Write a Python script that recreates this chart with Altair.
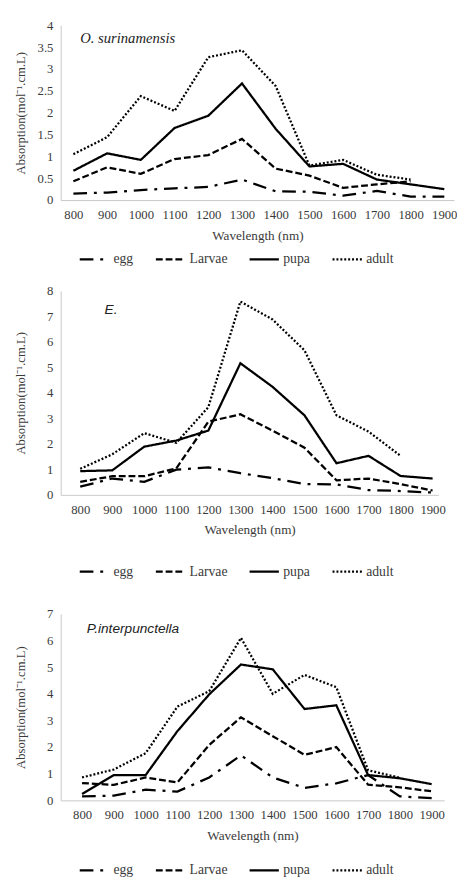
import altair as alt
import pandas as pd

wavelengths = [800, 900, 1000, 1100, 1200, 1300, 1400, 1500, 1600, 1700, 1800, 1900]
stages = ["egg", "Larvae", "pupa", "adult"]

# Panel 1: O. surinamensis
p1_egg = [0.15, 0.17, 0.23, 0.27, 0.30, 0.47, 0.20, 0.19, 0.10, 0.21, 0.08, 0.08]
p1_larvae = [0.43, 0.75, 0.60, 0.94, 1.03, 1.40, 0.72, 0.56, 0.28, 0.36, 0.43, None]
p1_pupa = [0.67, 1.07, 0.92, 1.65, 1.93, 2.67, 1.63, 0.77, 0.83, 0.47, 0.36, 0.25]
p1_adult = [1.05, 1.44, 2.38, 2.04, 3.27, 3.43, 2.61, 0.79, 0.92, 0.58, 0.47, None]

# Panel 2: E.
p2_egg = [0.32, 0.64, 0.51, 0.99, 1.08, 0.85, 0.66, 0.42, 0.41, 0.19, 0.15, 0.09]
p2_larvae = [0.51, 0.73, 0.73, 1.04, 2.87, 3.16, 2.52, 1.85, 0.57, 0.64, 0.42, 0.17]
p2_pupa = [0.93, 0.96, 1.89, 2.13, 2.52, 5.16, 4.24, 3.12, 1.24, 1.53, 0.74, 0.64]
p2_adult = [1.02, 1.59, 2.42, 2.04, 3.44, 7.58, 6.88, 5.67, 3.12, 2.48, 1.53, None]

# Panel 3: P. interpunctella
p3_egg = [0.15, 0.18, 0.40, 0.33, 0.86, 1.69, 0.86, 0.47, 0.64, 0.95, 0.15, 0.08]
p3_larvae = [0.65, 0.58, 0.86, 0.67, 2.08, 3.12, 2.41, 1.71, 2.00, 0.59, 0.49, 0.34]
p3_pupa = [0.24, 0.95, 0.95, 2.60, 3.98, 5.10, 4.92, 3.43, 3.57, 0.95, 0.83, 0.61]
p3_adult = [0.86, 1.16, 1.77, 3.52, 4.10, 6.10, 4.00, 4.71, 4.25, 1.13, 0.85, None]

y_title = "Absorption(mol\u207b\u00b9.cm.L)"
x_title = "Wavelength  (nm)"
dashes = [[14, 7, 3, 7], [7, 3], [1, 0], [2, 2]]

SERIF = "Liberation Serif"
TXT = "#3a3a3a"
AXC = "#c8c8c8"


def long_df(series):
    rows = []
    for stage, vals in zip(stages, series):
        for w, v in zip(wavelengths, vals):
            if v is not None:
                rows.append({"wl": w, "val": v, "stage": stage})
    return pd.DataFrame(rows)


def panel(series, xdom, ymax, ystep, w, h, legx, legy, legpad, label, lab_x, lab_y, lab_font, lab_size):
    df = long_df(series)
    yvals = [round(i * ystep, 2) for i in range(int(round(ymax / ystep)) + 1)]
    xscale = alt.Scale(domain=xdom, nice=False, zero=False)
    yscale = alt.Scale(domain=[0, ymax], nice=False)
    xaxis = alt.Axis(values=wavelengths, format="d", title=x_title, tickSize=0,
                     labelOverlap=False, labelFlush=False,
                     labelPadding=9, titlePadding=7, grid=False, domainColor=AXC,
                     labelFont=SERIF, titleFont=SERIF, labelFontSize=13, titleFontSize=13.5,
                     titleFontWeight="normal", labelColor=TXT, titleColor=TXT)
    yaxis = alt.Axis(values=yvals, format="~g", title=y_title, tickSize=0, labelPadding=8,
                     labelOverlap=False, labelFlush=False,
                     minExtent=30, maxExtent=30, titlePadding=4, grid=False,
                     domainColor=AXC, labelFont=SERIF, titleFont=SERIF,
                     labelFontSize=13, titleFontSize=13, titleFontWeight="normal",
                     labelColor=TXT, titleColor=TXT)
    lines = alt.Chart(df).mark_line(color="black", strokeWidth=2.3).encode(
        x=alt.X("wl:Q", scale=xscale, axis=xaxis, title=x_title),
        y=alt.Y("val:Q", scale=yscale, axis=yaxis, title=y_title),
        strokeDash=alt.StrokeDash("stage:N",
                                  scale=alt.Scale(domain=stages, range=dashes),
                                  sort=stages,
                                  legend=alt.Legend(title=None, orient="none", direction="horizontal",
                                                    legendX=legx, legendY=legy, padding=legpad,
                                                    symbolType="stroke", symbolSize=900,
                                                    symbolStrokeWidth=2.3, symbolStrokeColor="black",
                                                    labelFont=SERIF, labelFontSize=14, labelColor=TXT,
                                                    labelOffset=3, columnPadding=17)),
        detail="stage:N",
    )
    note = alt.Chart(pd.DataFrame({"t": [label]})).mark_text(
        align="left", baseline="middle", font=lab_font, fontSize=lab_size,
        fontStyle="italic", color="#222222").encode(
        x=alt.X(datum=lab_x, scale=xscale, axis=xaxis, title=x_title),
        y=alt.Y(datum=lab_y, scale=yscale, axis=yaxis, title=y_title),
        text="t:N")
    return alt.layer(lines, note).properties(width=w, height=h)


c1 = panel([p1_egg, p1_larvae, p1_pupa, p1_adult], [762.4, 1929.0], 4, 0.5, 403, 179,
           18 - 15, 208, 15, "O. surinamensis", 820, 3.71, SERIF, 15)
c2 = panel([p2_egg, p2_larvae, p2_pupa, p2_adult], [739.1, 1918.3], 8, 1, 387, 209,
           18 - 26, 245, 26, "E.", 876, 7.25, "Liberation Sans", 14)
c3 = panel([p3_egg, p3_larvae, p3_pupa, p3_adult], [732.8, 1939.8], 7, 1, 393, 191,
           18, 246, 0, "P.interpunctella", 815, 6.43, "Liberation Sans", 14)

chart = alt.vconcat(c1, c2, c3, spacing=4).properties(
    padding={"left": 7, "top": 1, "right": 0, "bottom": 0}
).configure(font=SERIF).configure_view(stroke=None).configure_axis(
    labelFont=SERIF, titleFont=SERIF
).configure_legend(labelFont=SERIF).resolve_scale(strokeDash="independent")

chart.save("out.html", embed_options={"renderer": "svg", "actions": False})
